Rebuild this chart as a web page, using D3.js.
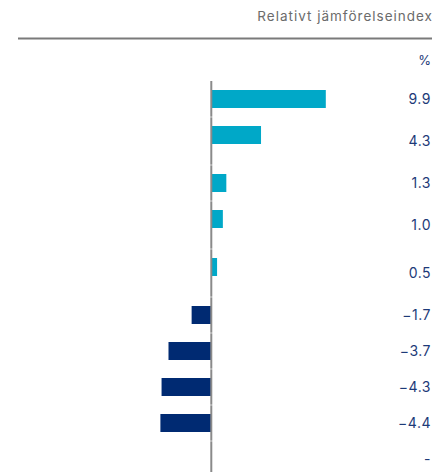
<!DOCTYPE html>
<html><head><meta charset="utf-8">
<script src="https://cdn.jsdelivr.net/npm/d3@7"></script>
<style>
html,body{margin:0;padding:0;background:#fff;}
svg{display:block;font-family:Inter, "Noto Sans", sans-serif;}
</style></head>
<body><div id="chart"></div>
<script>
const title = "Relativt jämförelseindex";
const unitLabel = "%";
const categories = ["r1","r2","r3","r4","r5","r6","r7","r8","r9","r10"];
const labelLines = [1,2,1,2,2,1,1,1,1,1];
const values = [9.9, 4.3, 1.3, 1.0, 0.5, -1.7, -3.7, -4.3, -4.4, null];

const W = 447, H = 472;
const svg = d3.select("#chart").append("svg").attr("width", W).attr("height", H);

// row layout from label line counts
const rowTop = 81, lineH = 12, basePad = 24;
const rowH = labelLines.map(n => basePad + n * lineH);
const starts = [];
let acc = 0;
rowH.forEach(h => { starts.push(acc); acc += h; });
const yUnit = d3.scaleLinear().domain([0, 1]).range([rowTop, rowTop + 1]);
const barH = 18;

const x = d3.scaleLinear().domain([-4.4, 9.9]).range([160.4, 325.8]);

const posColor = "#00A8C8", negColor = "#002A72", textColor = "#1d3a78";

// header
svg.append("text").attr("x", 433).attr("y", 21).attr("text-anchor", "end")
  .attr("font-size", 13.5).attr("letter-spacing", 1).attr("fill", "#6b6b6b").text(title);
svg.append("line").attr("x1", 18).attr("x2", 432).attr("y1", 38.5).attr("y2", 38.5)
  .attr("stroke", "#7a7a7a").attr("stroke-width", 2);
svg.append("text").attr("x", 431).attr("y", 65).attr("text-anchor", "end")
  .attr("font-size", 13).attr("fill", textColor).text(unitLabel);

const rows = categories.map((c, i) => ({c, v: values[i], top: yUnit(starts[i]), h: rowH[i]}));

// bars
svg.append("g").selectAll("rect").data(rows.filter(d => d.v != null)).join("rect")
  .attr("x", d => x(Math.min(0, d.v)))
  .attr("width", d => Math.abs(x(d.v) - x(0)))
  .attr("y", d => d.top + 9)
  .attr("height", barH)
  .attr("fill", d => d.v >= 0 ? posColor : negColor);

// axis line
svg.append("line").attr("x1", x(0)).attr("x2", x(0)).attr("y1", rowTop).attr("y2", H)
  .attr("stroke", "#8a8a8a").attr("stroke-width", 2);
// white separators at row boundaries
svg.append("g").selectAll("line").data(rows.slice(1)).join("line")
  .attr("x1", x(0) - 2).attr("x2", x(0) + 2)
  .attr("y1", d => d.top).attr("y2", d => d.top)
  .attr("stroke", "#fff").attr("stroke-width", 1).attr("opacity", 0.6);

// value labels
const fmt = v => v == null ? "-" : (v < 0 ? "\u2212" + d3.format(".1f")(-v) : d3.format(".1f")(v));
svg.append("g").selectAll("text").data(rows).join("text")
  .attr("x", 431).attr("y", d => d.top + d.h / 2)
  .attr("dy", "0.35em").attr("text-anchor", "end")
  .attr("font-size", 14).attr("letter-spacing", 0.5).attr("fill", textColor)
  .text(d => fmt(d.v));
</script></body></html>
